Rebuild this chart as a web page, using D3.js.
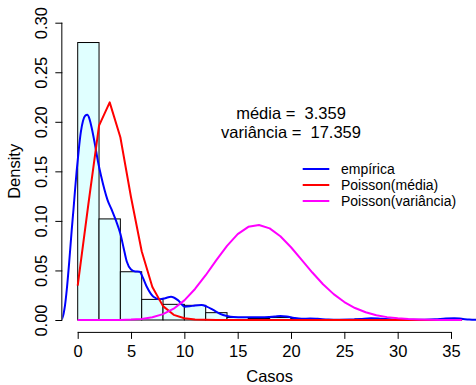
<!DOCTYPE html>
<html>
<head>
<meta charset="utf-8">
<script src="https://cdn.jsdelivr.net/npm/d3@7"></script>
<style>
  html, body { margin: 0; padding: 0; background: #fff; }
  svg text { font-family: "Liberation Sans", Arial, Helvetica, sans-serif; fill: #000; white-space: pre; }
</style>
</head>
<body>
<svg id="chart" width="476" height="385"></svg>
<script>
// Histogram of cases (bin width 2), density scale
const histBreaks = [0, 2, 4, 6, 8, 10, 12, 14, 16, 18, 20, 22, 24, 26, 28, 30, 32, 34, 36];
const histDensity = [0.280, 0.102, 0.0487, 0.0208, 0.0158, 0.0148, 0.0074, 0.0025, 0.0015,
                     0.0025, 0.0015, 0.0005, 0.0000, 0.0010, 0.0005, 0.0000, 0.0000, 0.0012];

// Empirical kernel density estimate
const empX = [-1.6, -1.44, -1.2, -1.03, -0.8, -0.56, -0.4, -0.25, -0.1, 0.1, 0.3, 0.5, 0.7, 0.9, 1.1,
              1.35, 1.62, 1.9, 2.2, 2.5, 2.8, 3.2, 3.6, 4.0, 4.3, 4.6, 5.0, 5.4, 5.8, 6.1, 6.5, 7.1,
              7.7, 8.2, 8.75, 9.4, 10.05, 10.5, 11.0, 11.6, 12.1, 12.7, 13.3, 14.0, 14.6, 15.5, 16.5,
              17.5, 18.5, 19.0, 19.6, 20.3, 21.0, 21.8, 22.5, 23.5, 24.5, 25.5, 26.5, 27.5, 28.5,
              29.5, 30.5, 31.5, 32.5, 33.5, 34.5, 35.3, 36.0, 36.7, 37.5];
const empY = [0.0, 0.002, 0.014, 0.030, 0.058, 0.091, 0.111, 0.131, 0.150, 0.172, 0.190, 0.201, 0.206,
              0.207, 0.203, 0.192, 0.177, 0.160, 0.145, 0.132, 0.121, 0.111, 0.100, 0.087, 0.073, 0.059,
              0.051, 0.049, 0.0488, 0.043, 0.033, 0.0235, 0.021, 0.022, 0.0235, 0.020, 0.0134, 0.0138,
              0.0147, 0.0151, 0.0135, 0.0101, 0.0065, 0.004, 0.003, 0.0028, 0.0028, 0.0029, 0.0035,
              0.004, 0.0035, 0.002, 0.0012, 0.0015, 0.0012, 0.0005, 0.0003, 0.0004, 0.001, 0.0018,
              0.0012, 0.0006, 0.0003, 0.0002, 0.0003, 0.0007, 0.0015, 0.0018, 0.0012, 0.0004, 0.0001];

// Poisson probabilities at k = 0..36
const kValues = [0, 1, 2, 3, 4, 5, 6, 7, 8, 9, 10, 11, 12, 13, 14, 15, 16, 17, 18, 19, 20, 21, 22, 23, 24,
                 25, 26, 27, 28, 29, 30, 31, 32, 33, 34, 35, 36];
const poisMedia = [0.0348, 0.1168, 0.1962, 0.2196, 0.1844, 0.1239, 0.0694, 0.0333, 0.0140, 0.0052,
                   0.0018, 0.0005, 0.0002, 0.0000, 0.0000, 0.0000, 0.0000, 0.0000, 0.0000, 0.0000,
                   0.0000, 0.0000, 0.0000, 0.0000, 0.0000, 0.0000, 0.0000, 0.0000, 0.0000, 0.0000,
                   0.0000, 0.0000, 0.0000, 0.0000, 0.0000, 0.0000, 0.0000];
const poisVar = [0.0000, 0.0000, 0.0000, 0.0000, 0.0001, 0.0004, 0.0011, 0.0027, 0.0059, 0.0114,
                 0.0198, 0.0313, 0.0452, 0.0604, 0.0748, 0.0866, 0.0940, 0.0959, 0.0925, 0.0845,
                 0.0734, 0.0607, 0.0479, 0.0361, 0.0261, 0.0181, 0.0121, 0.0078, 0.0048, 0.0029,
                 0.0017, 0.0009, 0.0005, 0.0003, 0.0001, 0.0001, 0.0000];

const xTicks = [0, 5, 10, 15, 20, 25, 30, 35];
const yTicks = [0.00, 0.05, 0.10, 0.15, 0.20, 0.25, 0.30];
const legendLabels = ["empírica", "Poisson(média)", "Poisson(variância)"];
const legendColors = ["#0000ff", "#ff0000", "#ff00ff"];
const statLines = ["média =  3.359", "variância =  17.359"];

const svg = d3.select("#chart");

const x = d3.scaleLinear().domain([0, 35]).range([77.7, 451]);
const y = d3.scaleLinear().domain([0, 0.30]).range([320, 22.7]);

// plotting region (R style 4% padding around the data limits)
const plotLeft = x(-1.44), plotRight = x(37.44);
const plotTop = y(0.312), plotBottom = y(-0.012);

svg.append("defs").append("clipPath").attr("id", "plotClip")
  .append("rect")
  .attr("x", plotLeft).attr("y", plotTop)
  .attr("width", plotRight - plotLeft).attr("height", plotBottom - plotTop);

const plot = svg.append("g").attr("clip-path", "url(#plotClip)");

// histogram bars
const bins = histDensity.map((d, i) => ({ x0: histBreaks[i], x1: histBreaks[i + 1], d }));
plot.selectAll("rect.bar").data(bins).enter().append("rect")
  .attr("class", "bar")
  .attr("x", b => x(b.x0))
  .attr("y", b => y(b.d))
  .attr("width", b => x(b.x1) - x(b.x0))
  .attr("height", b => y(0) - y(b.d))
  .attr("fill", "#e0ffff")
  .attr("stroke", "#000")
  .attr("stroke-width", 1);

// curves
const empLine = d3.line().x(d => x(d[0])).y(d => y(d[1])).curve(d3.curveMonotoneX);
plot.append("path")
  .datum(empX.map((v, i) => [v, empY[i]]))
  .attr("d", empLine)
  .attr("fill", "none").attr("stroke", legendColors[0]).attr("stroke-width", 2);

const segLine = d3.line().x(d => x(d[0])).y(d => y(d[1]));
plot.append("path")
  .datum(kValues.map((k, i) => [k, poisMedia[i]]))
  .attr("d", segLine)
  .attr("fill", "none").attr("stroke", legendColors[1]).attr("stroke-width", 2)
  .attr("stroke-linejoin", "round");

plot.append("path")
  .datum(kValues.map((k, i) => [k, poisVar[i]]))
  .attr("d", segLine)
  .attr("fill", "none").attr("stroke", legendColors[2]).attr("stroke-width", 2)
  .attr("stroke-linejoin", "round");

// axes
const fontSize = 16.5;
const xAxis = d3.axisBottom(x).tickValues(xTicks).tickSize(7).tickPadding(4)
  .tickFormat(d3.format("d"));
const gx = svg.append("g").attr("transform", `translate(0,${plotBottom})`).call(xAxis);
gx.select(".domain").attr("d", `M${x(0)},0.5V0.5H${x(35)}`).attr("stroke", "#000");
gx.selectAll(".tick line").attr("stroke", "#000");
gx.selectAll(".tick text").attr("font-size", fontSize).attr("font-family", null)
  .attr("dy", null).attr("y", 25.3);

const yAxis = d3.axisLeft(y).tickValues(yTicks).tickSize(7).tickFormat(d3.format(".2f"));
const gy = svg.append("g").attr("transform", `translate(${plotLeft},0)`).call(yAxis);
gy.select(".domain").attr("d", `M-0.5,${y(0)}H-0.5V${y(0.30)}`).attr("stroke", "#000");
gy.selectAll(".tick line").attr("stroke", "#000");
gy.selectAll(".tick text")
  .attr("font-size", fontSize).attr("font-family", null)
  .attr("x", null).attr("dy", null)
  .attr("text-anchor", "middle")
  .attr("transform", "translate(-15.3,0) rotate(-90)");

// axis titles
svg.append("text")
  .attr("x", (plotLeft + plotRight) / 2).attr("y", 382)
  .attr("text-anchor", "middle").attr("font-size", fontSize)
  .text("Casos");
svg.append("text")
  .attr("transform", `translate(20,${(plotTop + plotBottom) / 2}) rotate(-90)`)
  .attr("text-anchor", "middle").attr("font-size", fontSize)
  .text("Density");

// summary statistics
svg.selectAll("text.stat").data(statLines).enter().append("text")
  .attr("class", "stat")
  .attr("x", 291).attr("y", (d, i) => 118.5 + i * 19.3)
  .attr("text-anchor", "middle").attr("font-size", fontSize)
  .text(d => d);

// legend
const legend = svg.append("g");
const rows = legend.selectAll("g").data(legendLabels).enter().append("g")
  .attr("transform", (d, i) => `translate(0,${169 + i * 16})`);
rows.append("line")
  .attr("x1", 302.7).attr("x2", 329.3).attr("y1", 0).attr("y2", 0)
  .attr("stroke", (d, i) => legendColors[i]).attr("stroke-width", 2);
rows.append("text")
  .attr("x", 341).attr("y", 4.8)
  .attr("font-size", 14)
  .text(d => d);
</script>
</body>
</html>
